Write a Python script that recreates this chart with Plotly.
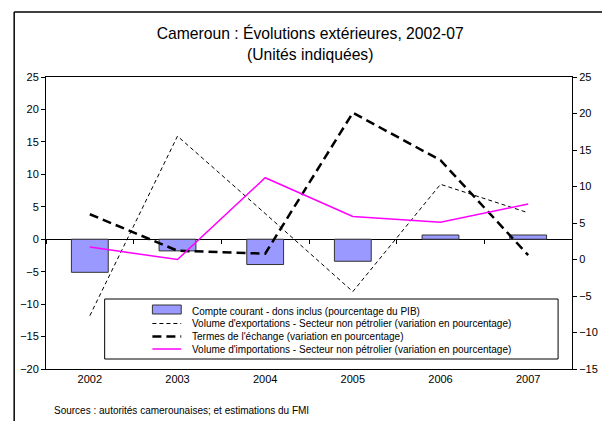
import plotly.graph_objects as go

# Années
years = ["2002", "2003", "2004", "2005", "2006", "2007"]

# Compte courant - dons inclus (pourcentage du PIB), axe de gauche
current_account = [-5.1, -1.8, -3.9, -3.4, 0.65, 0.65]

# Séries en variation en pourcentage, axe de droite
export_volume = [-7.7, 16.9, 6.3, -4.4, 10.3, 6.4]
terms_of_trade = [6.2, 1.2, 0.8, 20.1, 13.6, 0.6]
import_volume = [1.7, 0.0, 11.2, 5.9, 5.1, 7.6]

names = [
    "Compte courant - dons inclus (pourcentage du PIB)",
    "Volume d'exportations - Secteur non pétrolier (variation en pourcentage)",
    "Termes de l'échange (variation en pourcentage)",
    "Volume d'importations - Secteur non pétrolier (variation en pourcentage)",
]

font_family = "Liberation Sans, Arial, sans-serif"

# page body has an 8px margin, so the figure is drawn a bit smaller
W, H = 602, 413
L, R, T, B = 35, 38, 69, 52
PW, PH = W - L - R, H - T - B


def px(x):
    return (x - L) / PW


def py(y):
    return (H - B - y) / PH


bar_style = dict(color="#9999FF", line=dict(color="#333333", width=1))
line_styles = [
    dict(color="black", width=1, dash="4px,3px"),
    dict(color="black", width=2.5, dash="9px,5px"),
    dict(color="#FF00FF", width=1.5),
]

fig = go.Figure()

fig.add_trace(go.Bar(
    x=years, y=current_account, name=names[0], marker=bar_style,
    width=0.42, xaxis="x", yaxis="y",
))
for vals, name, style in zip([export_volume, terms_of_trade, import_volume],
                             names[1:], line_styles):
    fig.add_trace(go.Scatter(
        x=years, y=vals, name=name, mode="lines", line=style,
        xaxis="x2", yaxis="y2",
    ))

fig.update_layout(
    width=W, height=H,
    margin=dict(l=L, r=R, t=T, b=B),
    paper_bgcolor="white", plot_bgcolor="white",
    font=dict(family=font_family, size=11, color="black"),
    title=dict(
        text="Cameroun : Évolutions extérieures, 2002-07<br>(Unités indiquées)",
        x=0.502, xanchor="center", y=0.924, yanchor="top",
        font=dict(size=15.7, family=font_family, color="black"),
    ),
    showlegend=False,
    xaxis=dict(
        type="category", showline=True, linecolor="black", linewidth=1,
        mirror=True, ticks="", showgrid=False, tickfont=dict(size=11),
    ),
    # category axis crossing at zero of the left scale (ticks between years)
    xaxis2=dict(
        type="category", matches="x", overlaying="x", anchor="free",
        position=20 / 45, showline=False, showgrid=False,
        showticklabels=False, ticks="outside", tickson="boundaries",
        ticklen=4, tickcolor="black",
    ),
    yaxis=dict(
        range=[-20, 25], dtick=5, showline=True, linecolor="black",
        ticks="outside", ticklen=4, tickcolor="black", showgrid=False,
        zeroline=True, zerolinecolor="black", zerolinewidth=1,
        tickfont=dict(size=11),
    ),
    yaxis2=dict(
        range=[-15, 25], dtick=5, overlaying="y", side="right", anchor="x2",
        showline=True, linecolor="black", ticks="outside", ticklen=4,
        tickcolor="black", showgrid=False, zeroline=False,
        tickfont=dict(size=11),
    ),
)

# legend drawn by hand so the rows sit as tight as in the reference
fig.add_shape(type="rect", xref="paper", yref="paper",
              x0=px(94), x1=px(550), y0=py(351), y1=py(291),
              line=dict(color="black", width=1), fillcolor="white")
rows = [303, 315.5, 328.5, 341]
fig.add_shape(type="rect", xref="paper", yref="paper",
              x0=px(142), x1=px(171), y0=py(306), y1=py(297),
              line=bar_style["line"], fillcolor=bar_style["color"])
for ry, style in zip(rows[1:], line_styles):
    fig.add_shape(type="line", xref="paper", yref="paper",
                  x0=px(142), x1=px(171), y0=py(ry), y1=py(ry), line=style)
for ry, name in zip(rows, names):
    fig.add_annotation(text=name, xref="paper", yref="paper",
                       x=px(180), y=py(ry), xanchor="left", yanchor="middle",
                       showarrow=False, font=dict(size=10, family=font_family))

# outer chart frame (left and top edges)
fig.add_shape(type="line", xref="paper", yref="paper",
              x0=px(3), x1=px(3), y0=py(H + 5), y1=py(4),
              line=dict(color="black", width=1.5))
fig.add_shape(type="line", xref="paper", yref="paper",
              x0=px(3), x1=px(W + 5), y0=py(4), y1=py(4),
              line=dict(color="black", width=1.5))

fig.add_annotation(
    text="Sources : autorités camerounaises; et estimations du FMI",
    xref="paper", yref="paper", x=px(41), y=py(402),
    xanchor="left", yanchor="middle", showarrow=False,
    font=dict(size=10, family=font_family),
)

fig.write_html("out.html")
